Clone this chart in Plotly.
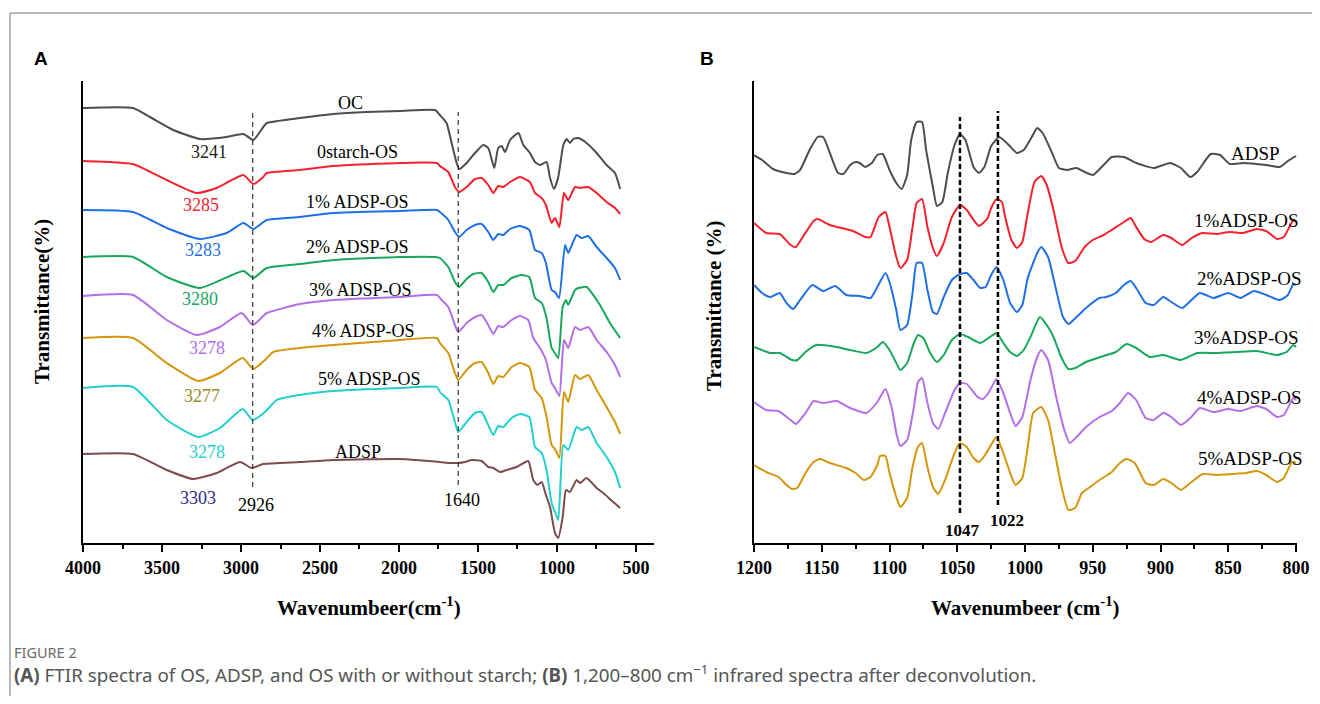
import plotly.graph_objects as go

# ---------------- Panel A: FTIR spectra (wavenumber, relative transmittance) ----------------
oc_wn = [4000, 3684, 3576, 3428, 3259, 3091, 2985, 2922, 2859, 2837, 2627, 2416, 2204, 1994, 1772, 1741,
         1699, 1667, 1635, 1619, 1572, 1530, 1467, 1435, 1397, 1372, 1350, 1329, 1297, 1244, 1213, 1171,
         1139, 1108, 1066, 1044, 1019, 992, 960, 939, 918, 897, 865, 813, 749, 686, 633, 600]
oc_t = [435, 435, 426, 413, 404, 406, 409, 403, 416, 420, 425, 429, 431, 432, 433, 428,
        420, 400, 380, 374, 380, 388, 398, 395, 375, 395, 397, 391, 403, 410, 398, 390,
        381, 378, 381, 365, 354, 366, 398, 404, 400, 404, 405, 400, 390, 378, 370, 354]

os0_wn = [4000, 3829, 3684, 3470, 3280, 3154, 2985, 2922, 2859, 2837, 2627, 2416, 1994, 1759, 1741, 1688,
          1646, 1619, 1572, 1519, 1477, 1435, 1403, 1372, 1340, 1297, 1234, 1171, 1139, 1097, 1070, 1034,
          1013, 985, 956, 929, 886, 854, 802, 749, 686, 633, 600]
os0_t = [382, 381, 379, 363, 350, 355, 368, 359, 366, 370, 373, 377, 380, 380, 377, 371,
         356, 351, 356, 364, 365, 358, 350, 357, 356, 361, 366, 361, 350, 345, 338, 320,
         325, 316, 350, 343, 356, 355, 356, 350, 341, 335, 329]

os1_wn = [4000, 3684, 3470, 3259, 3091, 2985, 2922, 2837, 2627, 2416, 1994, 1759, 1741, 1688, 1646, 1619,
          1572, 1519, 1477, 1435, 1403, 1372, 1340, 1297, 1234, 1175, 1139, 1097, 1070, 1034, 1013, 987,
          949, 929, 876, 844, 802, 749, 686, 633, 600]
os1_t = [333, 331, 315, 304, 310, 320, 314, 323, 326, 330, 332, 333, 331, 323, 311, 306,
         313, 318, 319, 311, 303, 309, 308, 314, 317, 313, 293, 290, 280, 253, 251, 245,
         298, 290, 308, 305, 307, 296, 285, 275, 263]

os2_wn = [4000, 3684, 3470, 3259, 2985, 2922, 2837, 2627, 2416, 1994, 1772, 1741, 1688, 1646, 1620, 1572,
          1530, 1477, 1435, 1403, 1372, 1340, 1287, 1223, 1175, 1139, 1097, 1066, 1034, 1013, 992, 964,
          943, 929, 886, 865, 813, 728, 665, 600]
os2_t = [286, 286, 266, 255, 272, 265, 275, 279, 283, 286, 286, 285, 276, 261, 256, 264,
         269, 270, 261, 251, 258, 258, 265, 268, 266, 245, 240, 225, 195, 190, 185, 236,
         243, 238, 253, 255, 256, 238, 220, 205]

os3_wn = [4000, 3684, 3470, 3280, 3133, 2996, 2926, 2859, 2837, 2627, 2416, 1994, 1759, 1741, 1688, 1646,
          1625, 1572, 1519, 1477, 1435, 1403, 1372, 1340, 1287, 1234, 1182, 1150, 1108, 1070, 1034, 1013,
          985, 956, 929, 886, 854, 802, 749, 686, 633, 600]
os3_t = [247, 248, 223, 208, 216, 230, 218, 227, 230, 239, 243, 246, 248, 245, 236, 218,
         211, 220, 226, 228, 218, 209, 217, 216, 223, 227, 223, 205, 195, 183, 160, 155,
         147, 203, 195, 216, 213, 216, 203, 191, 178, 166]

os4_wn = [4000, 3684, 3470, 3270, 3133, 2989, 2922, 2848, 2796, 2627, 2416, 1994, 1759, 1741, 1688, 1646,
          1625, 1572, 1519, 1477, 1435, 1403, 1372, 1340, 1287, 1234, 1175, 1139, 1097, 1066, 1034, 1013,
          985, 956, 929, 886, 854, 802, 749, 686, 633, 600]
os4_t = [205, 205, 180, 162, 170, 185, 174, 183, 191, 195, 198, 203, 205, 200, 190, 170,
         163, 173, 180, 181, 170, 159, 167, 166, 176, 180, 176, 153, 145, 126, 98, 94,
         85, 151, 141, 168, 164, 168, 153, 136, 121, 109]

os5_wn = [4000, 3684, 3470, 3270, 3133, 2989, 2926, 2848, 2774, 2627, 2416, 1994, 1759, 1741, 1688, 1646,
          1625, 1572, 1519, 1477, 1435, 1403, 1372, 1340, 1287, 1234, 1175, 1139, 1097, 1066, 1034, 1013,
          992, 960, 929, 876, 844, 802, 749, 686, 633, 600]
os5_t = [155, 156, 123, 106, 115, 134, 123, 131, 143, 148, 152, 155, 156, 151, 143, 121,
         111, 121, 130, 131, 118, 108, 117, 116, 125, 129, 126, 96, 90, 73, 40, 31,
         23, 98, 93, 116, 113, 116, 100, 86, 71, 55]

adsp_wn = [4000, 3684, 3470, 3302, 3154, 3006, 2932, 2859, 2627, 2416, 1994, 1741, 1677, 1625, 1582, 1540,
           1477, 1435, 1403, 1361, 1318, 1255, 1182, 1150, 1125, 1097, 1070, 1044, 1013, 992, 964, 943,
           918, 876, 854, 813, 749, 707, 644, 600]
adsp_t = [89, 89, 73, 64, 70, 81, 75, 79, 81, 83, 84, 81, 80, 80, 81, 83,
          82, 76, 75, 71, 73, 76, 82, 63, 58, 61, 48, 36, 10, 5, 26, 53,
          51, 63, 60, 65, 55, 50, 41, 35]

a_names = ["OC", "0starch-OS", "1% ADSP-OS", "2% ADSP-OS", "3% ADSP-OS", "4% ADSP-OS", "5% ADSP-OS", "ADSP"]
a_peaks = ["3241", "3285", "3283", "3280", "3278", "3277", "3278", "3303"]
a_marks = [2926, 1625]
a_mark_labels = ["2926", "1640"]

# ---------------- Panel B: deconvoluted 1200-800 cm-1 ----------------
b0_wn = [1200, 1194, 1186, 1176, 1170, 1166, 1159, 1153, 1149, 1144, 1138, 1134, 1129, 1125, 1122, 1118,
         1113, 1109, 1105, 1100, 1095, 1091, 1087, 1084, 1080, 1076, 1073, 1068, 1065, 1061, 1057, 1052,
         1048, 1044, 1038, 1034, 1030, 1025, 1019, 1012, 1006, 1001, 995, 991, 987, 980, 975, 969,
         962, 956, 950, 942, 936, 927, 918, 905, 893, 885, 878, 873, 863, 856, 849, 839, 822, 812, 806, 800]
b0_t = [388, 383, 374, 370, 369, 373, 393, 406, 406, 390, 370, 369, 378, 381, 380, 376,
        380, 388, 389, 373, 360, 354, 368, 403, 421, 421, 393, 356, 337, 341, 370, 398,
        409, 403, 376, 370, 376, 397, 406, 398, 390, 393, 406, 415, 410, 390, 375, 373,
        375, 371, 368, 378, 386, 386, 380, 375, 380, 375, 366, 371, 389, 388, 379, 380, 378, 376, 382, 387]

b1_wn = [1200, 1191, 1181, 1173, 1169, 1164, 1156, 1153, 1144, 1127, 1118, 1114, 1108, 1103, 1100, 1095,
         1092, 1087, 1083, 1080, 1076, 1072, 1068, 1065, 1060, 1054, 1048, 1043, 1038, 1034, 1028, 1025,
         1021, 1017, 1015, 1010, 1006, 1002, 998, 993, 988, 984, 979, 973, 968, 963, 956, 950,
         942, 936, 927, 922, 918, 912, 907, 898, 892, 884, 877, 869, 859, 849, 839, 829, 822, 814, 809, 802, 800]
b1_t = [320, 310, 309, 298, 296, 306, 322, 324, 318, 312, 306, 306, 326, 331, 316, 286,
        275, 283, 316, 340, 344, 316, 295, 287, 300, 326, 338, 333, 323, 317, 324, 335,
        344, 341, 328, 303, 295, 301, 330, 361, 367, 358, 333, 296, 280, 282, 296, 303,
        308, 313, 321, 325, 316, 304, 301, 308, 305, 298, 305, 310, 309, 311, 310, 314, 312, 304, 306, 323, 321]

b2_wn = [1200, 1194, 1188, 1181, 1176, 1171, 1166, 1157, 1149, 1140, 1132, 1122, 1114, 1109, 1103, 1100,
         1095, 1092, 1087, 1083, 1080, 1076, 1072, 1068, 1065, 1060, 1054, 1048, 1043, 1038, 1033, 1029,
         1025, 1021, 1016, 1011, 1006, 1002, 998, 991, 988, 983, 977, 972, 968, 962, 955, 945,
         940, 933, 927, 922, 918, 911, 905, 898, 892, 884, 871, 861, 850, 841, 831, 822, 812, 806, 802, 800]
b2_t = [258, 250, 246, 250, 240, 234, 243, 258, 252, 257, 248, 247, 245, 256, 270, 261,
        233, 213, 218, 250, 280, 280, 253, 231, 229, 246, 263, 269, 270, 263, 255, 256,
        268, 276, 263, 240, 231, 238, 265, 290, 296, 286, 253, 226, 219, 226, 235, 245,
        246, 250, 258, 262, 255, 240, 238, 246, 241, 235, 250, 245, 250, 245, 252, 248, 243, 248, 259, 258]

b3_wn = [1200, 1188, 1181, 1172, 1168, 1162, 1154, 1139, 1129, 1117, 1109, 1105, 1100, 1095, 1092, 1087,
         1082, 1079, 1075, 1070, 1065, 1060, 1054, 1048, 1042, 1033, 1027, 1021, 1016, 1011, 1006, 1001,
         996, 989, 983, 979, 973, 968, 963, 955, 942, 933, 925, 918, 908, 898, 885, 873, 859, 844,
         829, 814, 807, 802, 800]
b3_t = [196, 190, 190, 183, 183, 191, 198, 196, 193, 190, 196, 201, 193, 180, 173, 180,
        200, 208, 205, 190, 181, 188, 203, 209, 206, 200, 205, 210, 200, 191, 187, 193,
        206, 226, 216, 206, 185, 174, 175, 181, 187, 191, 199, 195, 186, 188, 183, 190, 190, 191,
        192, 188, 191, 198, 196]

b4_wn = [1200, 1191, 1182, 1173, 1169, 1162, 1156, 1149, 1139, 1129, 1117, 1109, 1103, 1098, 1095, 1092,
         1087, 1082, 1079, 1076, 1072, 1068, 1064, 1059, 1052, 1048, 1043, 1035, 1031, 1027, 1021, 1016,
         1011, 1007, 1002, 996, 991, 988, 983, 977, 971, 967, 962, 955, 945, 936, 930, 924,
         918, 911, 905, 898, 892, 885, 878, 871, 861, 850, 841, 829, 822, 814, 809, 802, 800]
b4_t = [141, 133, 132, 123, 119, 130, 142, 140, 142, 135, 130, 141, 154, 133, 110, 97,
        103, 136, 161, 165, 140, 120, 114, 130, 153, 160, 159, 146, 144, 150, 164, 150,
        130, 117, 126, 163, 186, 193, 183, 146, 113, 100, 106, 116, 126, 132, 140, 150,
        143, 125, 123, 130, 126, 118, 125, 135, 131, 134, 132, 137, 134, 126, 128, 145, 143]

b5_wn = [1200, 1191, 1182, 1176, 1172, 1168, 1162, 1156, 1151, 1144, 1132, 1125, 1119, 1114, 1109, 1107,
         1103, 1100, 1095, 1092, 1087, 1083, 1079, 1076, 1072, 1068, 1064, 1059, 1052, 1048, 1043, 1038,
         1034, 1030, 1026, 1021, 1016, 1011, 1007, 1002, 998, 994, 988, 983, 978, 973, 968, 963,
         958, 952, 945, 936, 930, 925, 919, 911, 905, 898, 892, 885, 878, 869, 859, 847, 837, 829,
         822, 814, 809, 803, 800]
b5_t = [78, 71, 66, 58, 54, 55, 70, 81, 84, 80, 75, 70, 63, 66, 78, 87,
        87, 70, 46, 36, 45, 76, 96, 100, 76, 56, 49, 63, 90, 100, 96, 85,
        81, 87, 96, 106, 90, 70, 58, 65, 96, 130, 136, 123, 90, 56, 33, 35,
        50, 56, 63, 71, 80, 84, 80, 60, 58, 64, 60, 53, 60, 69, 68, 69, 70, 72,
        68, 61, 65, 81, 80]

b_names = ["ADSP", "1%ADSP-OS", "2%ADSP-OS", "3%ADSP-OS", "4%ADSP-OS", "5%ADSP-OS"]
b_marks = [1048, 1020]
b_mark_labels = ["1047", "1022"]

GRAY, RED, BLUE, GREEN = "#4d4d4d", "#f5222d", "#1f6fe5", "#17a85b"
PURPLE, GOLD, CYAN, BROWN = "#b46ee8", "#d4960c", "#22cfcf", "#7d4b4b"

# the page body adds an 8px margin, so the figure is 16px smaller than the window
OFF = 8
W, H = 1320 - 2 * OFF, 704 - 2 * OFF
SERIF = "Liberation Serif, Times New Roman, serif"


def fx(p):  # window pixel -> paper x
    return (p - OFF) / W


def fy(p):  # window pixel -> paper y
    return 1 - (p - OFF) / H


fig = go.Figure()

a_series = [(oc_wn, oc_t, GRAY), (os0_wn, os0_t, RED), (os1_wn, os1_t, BLUE), (os2_wn, os2_t, GREEN),
            (os3_wn, os3_t, PURPLE), (os4_wn, os4_t, GOLD), (os5_wn, os5_t, CYAN), (adsp_wn, adsp_t, BROWN)]
for (xs, ys, c), name in zip(a_series, a_names):
    fig.add_trace(go.Scatter(x=xs, y=ys, mode="lines", name=name, xaxis="x", yaxis="y",
                             line=dict(color=c, width=2, shape="spline", smoothing=0.5)))

b_series = [(b0_wn, b0_t, GRAY), (b1_wn, b1_t, RED), (b2_wn, b2_t, BLUE),
            (b3_wn, b3_t, GREEN), (b4_wn, b4_t, PURPLE), (b5_wn, b5_t, GOLD)]
for (xs, ys, c), name in zip(b_series, b_names):
    fig.add_trace(go.Scatter(x=xs, y=ys, mode="lines", name=name, xaxis="x2", yaxis="y2",
                             line=dict(color=c, width=2, shape="spline", smoothing=0.5)))

# dashed marker lines
shapes = []
for xv, (y0, y1) in zip(a_marks, [(56, 430), (58, 431)]):
    shapes.append(dict(type="line", xref="x", yref="y", x0=xv, x1=xv, y0=y0, y1=y1,
                       line=dict(color="#333", width=1.2, dash="5px,4px")))
for xv, (y0, y1) in zip(b_marks, [(30, 426), (38, 432)]):
    shapes.append(dict(type="line", xref="x2", yref="y2", x0=xv, x1=xv, y0=y0, y1=y1,
                       line=dict(color="black", width=2.5, dash="5px,3px")))
# figure frame
shapes.append(dict(type="line", xref="paper", yref="paper", x0=fx(10), x1=1, y0=fy(13), y1=fy(13),
                   line=dict(color="#a0a0a0", width=1.5)))
shapes.append(dict(type="line", xref="paper", yref="paper", x0=fx(10), x1=fx(10), y0=fy(13), y1=0,
                   line=dict(color="#a0a0a0", width=1.5)))

ann = []


def label(x, y, text, size=18, color="black", bold=False, family=SERIF, xanchor="center", angle=0):
    ann.append(dict(x=fx(x), y=fy(y), xref="paper", yref="paper", text=text, showarrow=False,
                    xanchor=xanchor, yanchor="middle", textangle=angle,
                    font=dict(family=family, size=size, color=color, weight="bold" if bold else "normal")))


# panel A labels
name_pos_a = [(350, 103), (357, 152), (357, 202), (357, 247), (360, 290), (363, 331), (369, 379), (358, 452)]
peak_pos_a = [(209, 152), (201, 205), (203, 250), (200, 299), (207, 348), (202, 396), (207, 452), (198, 498)]
peak_cols = ["#222222", RED, BLUE, GREEN, PURPLE, "#9a8a1e", CYAN, "#2a2a8c"]
for t, (x, y) in zip(a_names, name_pos_a):
    label(x, y, t)
for t, (x, y), c in zip(a_peaks, peak_pos_a, peak_cols):
    label(x, y, t, color=c)
label(256, 505, a_mark_labels[0])
label(462, 500, a_mark_labels[1])

# panel B labels
name_pos_b = [(1255, 153), (1246, 220), (1249, 278), (1246, 337), (1249, 397), (1250, 458)]
for t, (x, y) in zip(b_names, name_pos_b):
    label(x, y, t, size=19)
label(962, 530, b_mark_labels[0], size=17, bold=True)
label(1007, 520, b_mark_labels[1], size=17, bold=True)

# axis titles
label(369, 606, "Wavenumbeer(cm<sup>-1</sup>)", size=21, bold=True)
label(1025, 606, "Wavenumbeer (cm<sup>-1</sup>)", size=21, bold=True)
label(42, 302, "Transmittance(%)", size=21, bold=True, angle=-90)
label(714, 306, "Transmittance (%)", size=21, bold=True, angle=-90)

# panel letters
label(32, 58, "A", size=19, bold=True, family="Liberation Sans, Arial, sans-serif", xanchor="left")
label(698, 58, "B", size=19, bold=True, family="Liberation Sans, Arial, sans-serif", xanchor="left")

# caption
ann.append(dict(x=fx(12), y=fy(652), xref="paper", yref="paper", xanchor="left", yanchor="middle",
                showarrow=False, text="FIGURE 2",
                font=dict(family="Noto Sans, sans-serif", size=14.5, color="#6b6b6b")))
ann.append(dict(x=fx(12), y=fy(674), xref="paper", yref="paper", xanchor="left", yanchor="middle",
                showarrow=False,
                text="<b>(A)</b> FTIR spectra of OS, ADSP, and OS with or without starch; <b>(B)</b> "
                     "1,200–800 cm<sup>−1</sup> infrared spectra after deconvolution.",
                font=dict(family="Noto Sans, sans-serif", size=18.8, color="#555555")))

tickfont = dict(family=SERIF, size=18, color="black", weight="bold")
xcommon = dict(showline=True, linewidth=2, linecolor="black", ticks="outside", ticklen=7, tickwidth=2,
               tickcolor="black", showgrid=False, zeroline=False, tickfont=tickfont, automargin=False)
ycommon = dict(showline=True, linewidth=2, linecolor="black", showticklabels=False, ticks="",
               showgrid=False, zeroline=False, range=[0, 462], domain=[fy(543), fy(81)], automargin=False)

fig.update_layout(
    width=W, height=H, margin=dict(l=0, r=0, t=0, b=0, pad=0, autoexpand=False),
    paper_bgcolor="white", plot_bgcolor="white", showlegend=False,
    xaxis=dict(xcommon, domain=[fx(83), fx(654)], range=[4000, 386], dtick=500, tick0=0, anchor="y",
               minor=dict(ticks="outside", ticklen=4, tickwidth=1.5, tickcolor="black", dtick=250, tick0=0)),
    yaxis=dict(ycommon, anchor="x"),
    xaxis2=dict(xcommon, domain=[fx(754), fx(1297)], range=[1200, 799.3], dtick=50, tick0=0, anchor="y2",
                minor=dict(ticks="outside", ticklen=4, tickwidth=1.5, tickcolor="black", dtick=25, tick0=0)),
    yaxis2=dict(ycommon, anchor="x2"),
    shapes=shapes, annotations=ann,
)

fig.write_html("out.html")
